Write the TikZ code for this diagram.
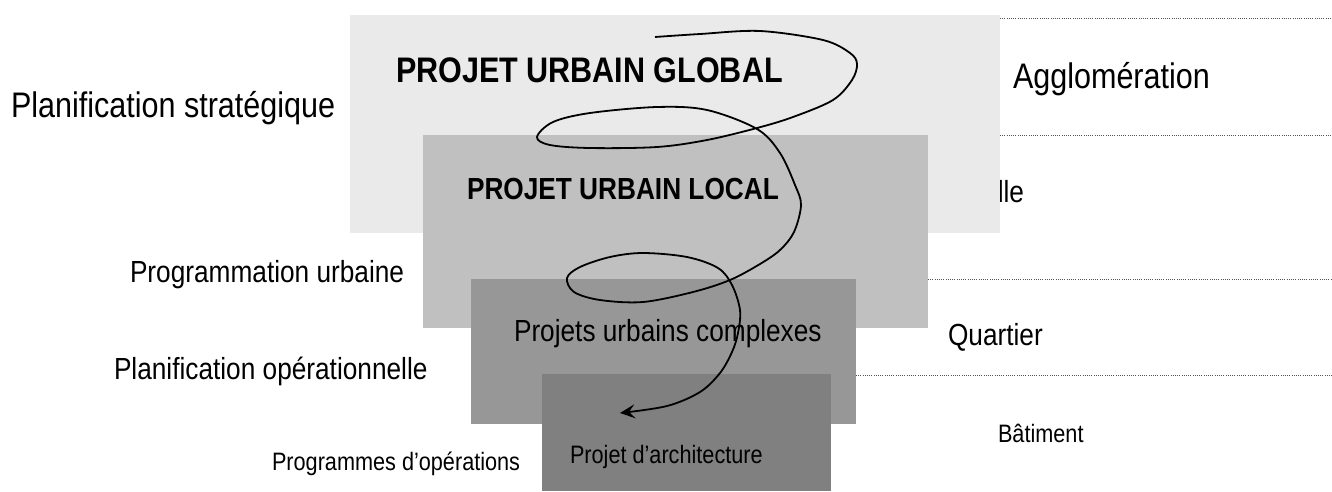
\documentclass[tikz,border=0pt]{standalone}
\usepackage{fontspec}
\setmainfont{Liberation Sans}[FakeStretch=0.86]
\usetikzlibrary{arrows.meta}
\definecolor{cglobal}{HTML}{EAEAEA}
\definecolor{clocal}{HTML}{C0C0C0}
\definecolor{ccomplex}{HTML}{979797}
\definecolor{carchi}{HTML}{808080}
\definecolor{cline}{HTML}{555555}
\tikzset{
  lbl/.style={anchor=base west, inner sep=0pt, outer sep=0pt, text=black},
  bigtxt/.style={font=\fontsize{35.5}{40}\selectfont},
  midtxt/.style={font=\fontsize{30.5}{36}\selectfont},
  smalltxt/.style={font=\fontsize{25.2}{30}\selectfont},
  zone/.style={draw=none, inner sep=0pt, outer sep=0pt, anchor=north west},
  levelline/.style={draw=cline, line width=0.9pt, dash pattern=on 0.9pt off 1.3pt},
  spiral/.style={draw=black, line width=1.8pt, line join=round,
    -{Stealth[length=15pt,width=14pt,inset=6pt]}}
}
\begin{document}
\begin{tikzpicture}[x=1pt,y=-1pt]
\useasboundingbox (0,0) rectangle (1332,491);
% text partly hidden behind the global zone
\node[lbl, midtxt, anchor=base east] (ville) at (1024,202) {Ville};
% zones
\node[zone, fill=cglobal, minimum width=650pt, minimum height=218pt] (global) at (350,15) {};
\node[zone, fill=clocal, minimum width=505pt, minimum height=193pt] (local) at (423,135) {};
\node[zone, fill=ccomplex, minimum width=385pt, minimum height=145pt] (complex) at (471,279) {};
\node[zone, fill=carchi, minimum width=289pt, minimum height=117pt] (archi) at (542,374) {};
% level lines
\coordinate (l1) at (1332,18);
\coordinate (l2) at (1332,135);
\coordinate (l3) at (1332,279);
\coordinate (l4) at (1332,375);
\draw[levelline] (global.east |- l1) -- (l1);
\draw[levelline] (global.east |- l2) -- (l2);
\draw[levelline] (local.east |- l3) -- (l3);
\draw[levelline] (complex.east |- l4) -- (l4);
% labels
\node[lbl, bigtxt] (ps) at (11,117) {Planification stratégique};
\node[lbl, bigtxt, font=\fontsize{35.5}{40}\selectfont\bfseries] (pug) at (396,82) {PROJET URBAIN GLOBAL};
\node[lbl, bigtxt] (agg) at (1013,88) {Agglomération};
\node[lbl, midtxt, font=\fontsize{30.5}{36}\selectfont\bfseries] (pul) at (467,199) {PROJET URBAIN LOCAL};
\node[lbl, midtxt] (pu) at (130,282) {Programmation urbaine};
\node[lbl, midtxt] (qu) at (948,345) {Quartier};
\node[lbl, midtxt] (puc) at (514,341) {Projets urbains complexes};
\node[lbl, midtxt] (po) at (114,379) {Planification opérationnelle};
\node[lbl, smalltxt] (pa) at (570,463) {Projet d’architecture};
\node[lbl, smalltxt] (pop) at (272,470) {Programmes d’opérations};
\node[lbl, smalltxt] (bat) at (998,442) {Bâtiment};
% spiral
\coordinate (sp) at (655,37);
\coordinate (ep) at (620,413);
\draw[spiral] plot[smooth, tension=0.55] coordinates {
 (sp) (700,34) (760,31) (823,40) (850,53) (857,64) (852,80) (833,100) (793,117)
 (757,128) (707,140) (657,147) (590,148) (550,145) (537,137) (553,122) (590,113)
 (657,107) (707,110) (757,129) (780,153) (795,185) (801,205) (794,232) (780,250)
 (760,264) (730,280) (693,292) (643,302) (600,300) (574,292) (567,278) (580,267)
 (610,257) (643,253) (687,257) (718,268) (732,285) (740,310) (738,333) (732,352)
 (720,373) (700,392) (667,406) (ep)};
\end{tikzpicture}
\end{document}
